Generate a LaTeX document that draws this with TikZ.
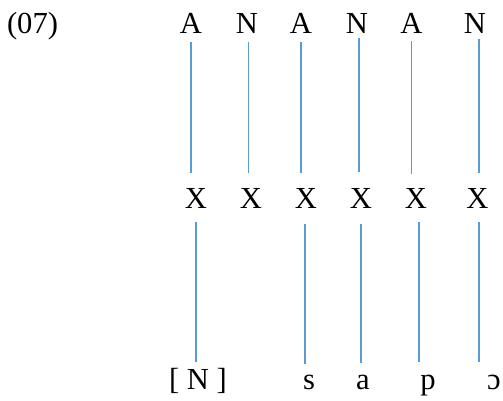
\documentclass[tikz,border=0pt]{standalone}
\usepackage{fontspec}
\setmainfont{Liberation Serif}
\usepackage{xcolor}
\usepackage{tikz}
\usetikzlibrary{positioning}

\definecolor{linkblue}{RGB}{91,155,213}

\tikzset{
  seg/.style={inner sep=0pt, anchor=base, font=\fontsize{30.6}{36}\selectfont},
  sound/.style={seg, text height=21.4pt},
  assoc/.style={draw=linkblue, line width=1.5pt},
}

\begin{document}
\begin{tikzpicture}[x=1pt,y=-1pt]

\useasboundingbox (0,0) rectangle (503,400);

% Example number
\node[seg] (num) at (32.5,33) {(07)};

% Melody tier
\node[seg] (t1) at (191,33) {A};
\node[seg] (t2) at (247,33) {N};
\node[seg] (t3) at (301,33) {A};
\node[seg] (t4) at (357,33) {N};
\node[seg] (t5) at (411.5,33) {A};
\node[seg] (t6) at (475,33) {N};

% Skeletal tier
\node[seg] (x1) at (196,208) {X};
\node[seg] (x2) at (251,208) {X};
\node[seg] (x3) at (306,208) {X};
\node[seg] (x4) at (361,208) {X};
\node[seg] (x5) at (416,208) {X};
\node[seg] (x6) at (477.5,208) {X};

% Segmental tier
\node[sound] (b1) at (198,389) {[ N ]};
\node[sound] (b2) at (309,389) {s};
\node[sound] (b3) at (363,389) {a};
\node[sound] (b4) at (428,389) {p};
\node[sound] (b5) at (494,389) {ɔ};

% Melody to skeleton
\draw[assoc, shorten <=9pt, shorten >=15pt] (t1.south) -- (t1.south |- x1.north);
\draw[assoc, shorten <=9pt, shorten >=15pt] ([xshift=1.5pt]t2.south) -- ([xshift=1.5pt]t2.south |- x2.north);
\draw[assoc, shorten <=9pt, shorten >=15pt] (t3.south) -- (t3.south |- x3.north);
\draw[assoc, shorten <=5pt, shorten >=16pt] ([xshift=2pt]t4.south) -- ([xshift=2pt]t4.south |- x4.north);
\draw[assoc, shorten <=8pt, shorten >=14pt] (t5.south) -- (t5.south |- x5.north);
\draw[assoc, shorten <=6pt, shorten >=15pt] ([xshift=4pt]t6.south) -- ([xshift=4pt]t6.south |- x6.north);

% Skeleton to segments
\draw[assoc, shorten <=14pt, shorten >=5.5pt] (x1.south) -- (x1.south |- b1.north);
\draw[assoc, shorten <=16pt, shorten >=3.5pt] ([xshift=-1pt]x3.south) -- ([xshift=-1pt]x3.south |- b2.north);
\draw[assoc, shorten <=16pt, shorten >=4.5pt] (x4.south) -- (x4.south |- b3.north);
\draw[assoc, shorten <=14pt, shorten >=5.5pt] ([xshift=3pt]x5.south) -- ([xshift=3pt]x5.south |- b4.north);
\draw[assoc, shorten <=14pt, shorten >=5.5pt] ([xshift=1.5pt]x6.south) -- ([xshift=1.5pt]x6.south |- b5.north);

\end{tikzpicture}
\end{document}
